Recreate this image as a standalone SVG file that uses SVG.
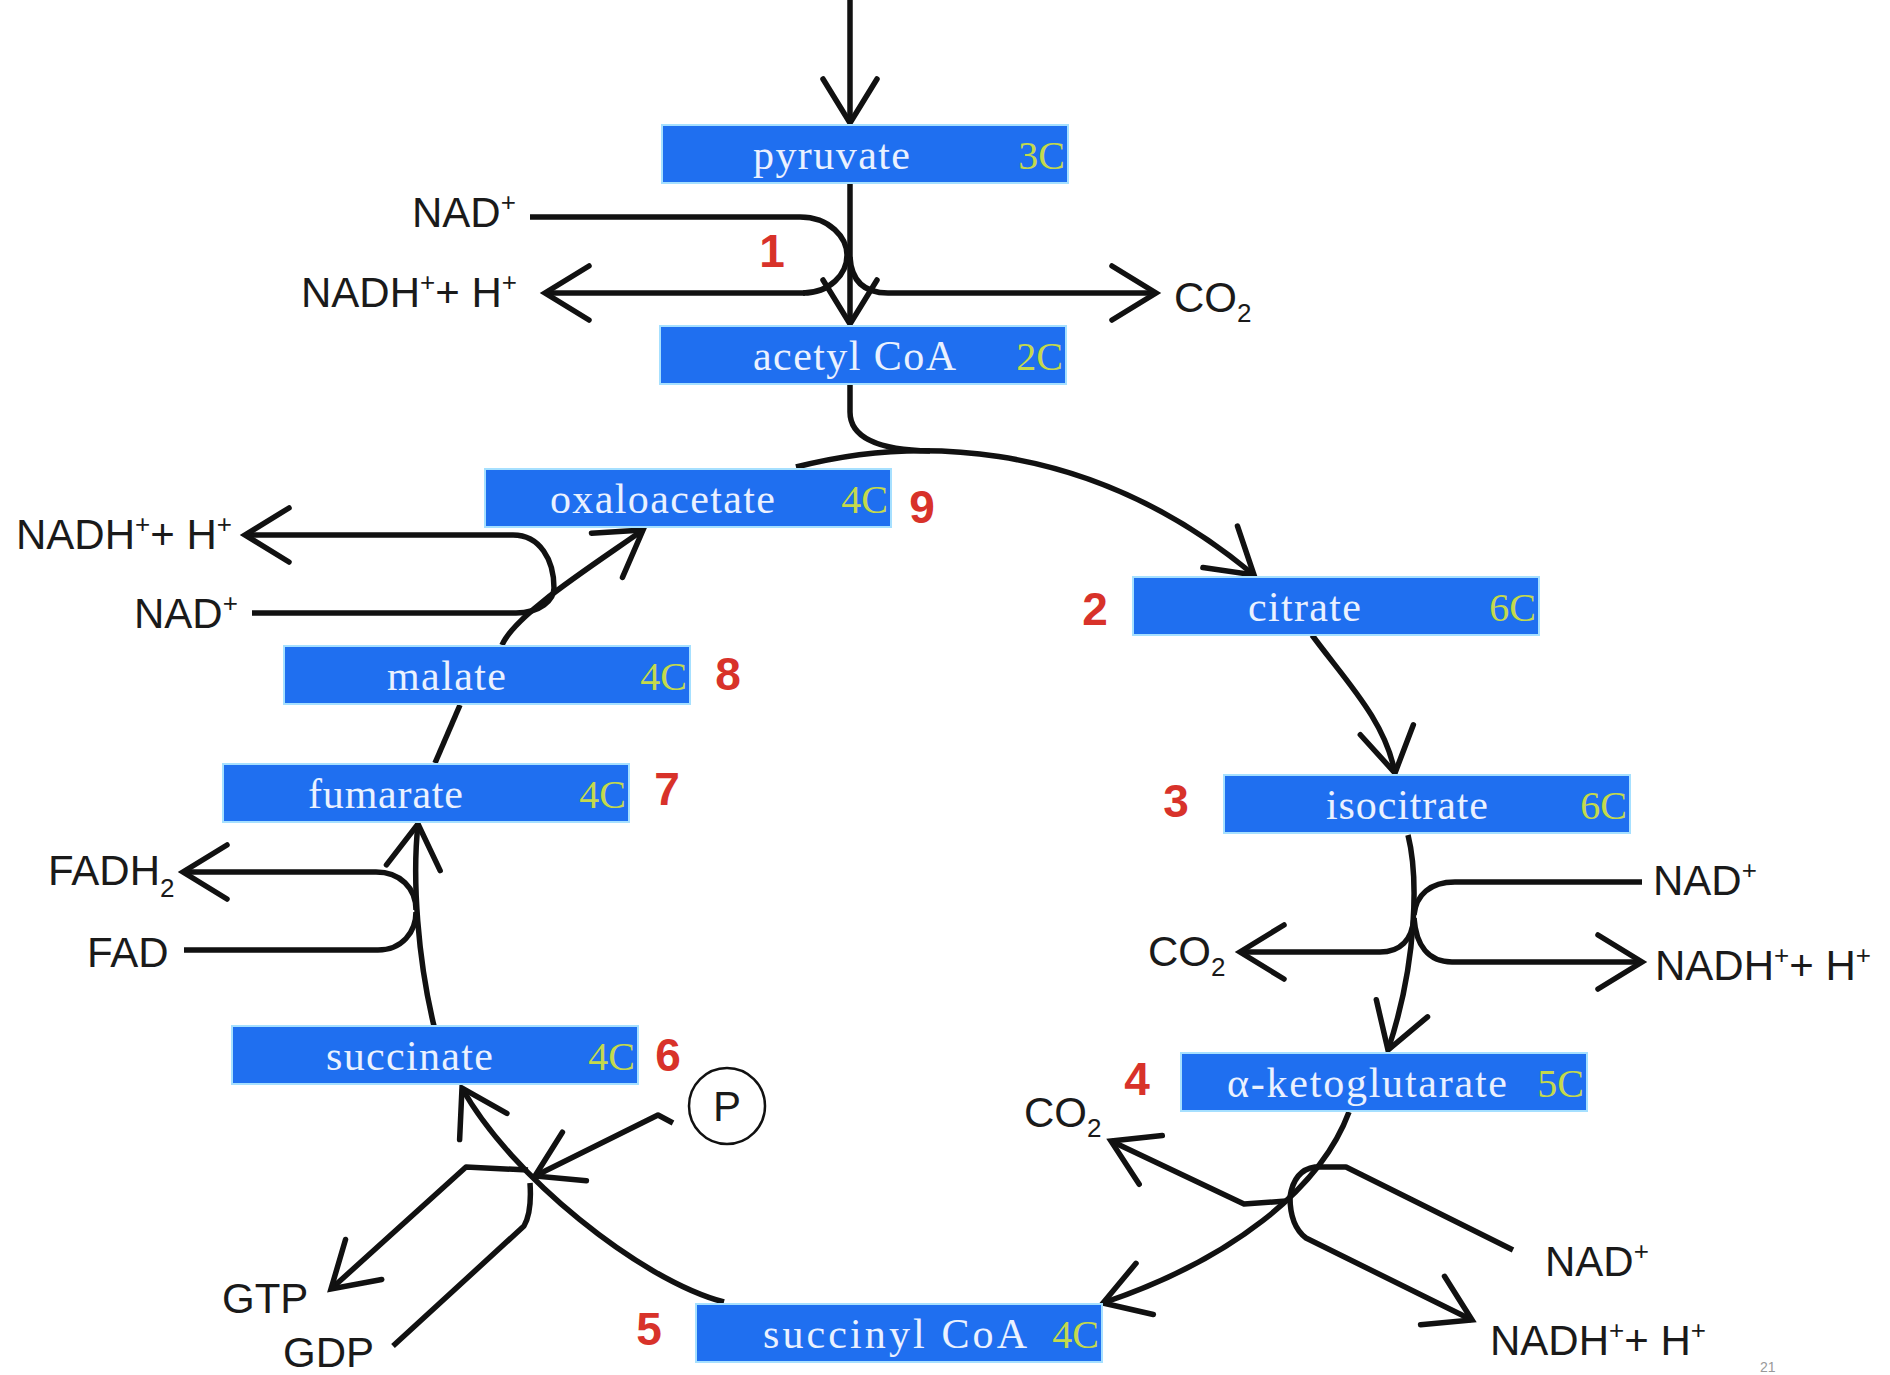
<svg xmlns="http://www.w3.org/2000/svg" width="1890" height="1375" viewBox="0 0 1890 1375">
<defs>
<style>
.box{fill:#1f6ff0;stroke:#a6e0ff;stroke-width:2}
.nm{font-family:"Liberation Serif","Times New Roman",serif;font-size:42px;fill:#eaf1ff}
.cc{font-family:"Liberation Serif","Times New Roman",serif;font-size:40px;fill:#c4d94c;text-anchor:end}
.num{font-family:"Liberation Sans",Arial,sans-serif;font-size:46px;font-weight:bold;fill:#d8322a;text-anchor:middle}
.lb{font-family:"Liberation Sans",Arial,sans-serif;font-size:42px;fill:#1a1a1a}
.ln{fill:none;stroke:#111;stroke-width:5.5;stroke-linejoin:round}
.ar{marker-end:url(#ah)}
</style>
<marker id="ah" markerUnits="userSpaceOnUse" viewBox="-50 -35 60 70" markerWidth="60" markerHeight="70" refX="0" refY="0" orient="auto" overflow="visible">
<path d="M -44 -27 L 0 0 L -44 27" fill="none" stroke="#111" stroke-width="5.5" stroke-linejoin="miter" stroke-linecap="round"/>
</marker>
</defs>
<rect width="1890" height="1375" fill="#ffffff"/>

<g id="connectors">
<path class="ln ar" d="M 850 0 L 850 123"/>
<path class="ln ar" d="M 850 184 L 850 324"/>
<path class="ln" d="M 530 217 L 800 217 C 830 217 847 238 847 255 C 847 274 830 293 803 293"/>
<path class="ln ar" d="M 805 293 L 545 293"/>
<path class="ln ar" d="M 850 257 Q 852 293 888 293 L 1156 293"/>
<path class="ln" d="M 850 385 L 850 412 C 850 438 880 450 930 451"/>
<path class="ln ar" d="M 796 467 C 900 440 1080 430 1254 575"/>
<path class="ln ar" d="M 1312 635 C 1345 680 1385 720 1395 773"/>
<path class="ln ar" d="M 1408 835 C 1418 875 1418 960 1388 1050"/>
<path class="ln" d="M 1642 882 L 1455 882 C 1430 882 1416 895 1414 915"/>
<path class="ln ar" d="M 1414 918 C 1412 940 1400 952 1380 952 L 1240 952"/>
<path class="ln ar" d="M 1414 918 C 1416 945 1428 962 1452 962 L 1642 962"/>
<path class="ln ar" d="M 1349 1112 C 1320 1190 1230 1260 1103 1303"/>
<path class="ln ar" d="M 1286 1201 L 1244 1204 L 1111 1141"/>
<path class="ln" d="M 1513 1250 L 1346 1167 L 1315 1167 Q 1294 1170 1290 1197"/>
<path class="ln ar" d="M 1290 1197 Q 1290 1226 1306 1238 L 1472 1320"/>
<path class="ln ar" d="M 724 1302 C 640 1280 510 1175 462 1088"/>
<path class="ln ar" d="M 673 1123 L 658 1115 L 535 1176"/>
<path class="ln ar" d="M 528 1170 L 466 1167 L 331 1289"/>
<path class="ln" d="M 393 1346 L 524 1226 Q 532 1212 530 1183"/>
<path class="ln ar" d="M 434 1026 C 418 960 412 880 418 824"/>
<path class="ln ar" d="M 416 910 C 416 888 400 872 376 872 L 183 872"/>
<path class="ln" d="M 184 950 L 378 950 C 402 950 416 932 416 912"/>
<path class="ln" d="M 460 705 L 435 763"/>
<path class="ln ar" d="M 502 645 C 515 615 586 570 643 530"/>
<path class="ln ar" d="M 554 588 C 554 560 540 535 513 535 L 245 535"/>
<path class="ln" d="M 252 613 L 516 613 C 540 613 554 600 554 588"/>
<circle cx="727" cy="1106" r="38" fill="none" stroke="#111" stroke-width="2.5"/>
</g>

<g id="pyruvate"><rect class="box" x="662" y="125" width="406" height="58"/><text class="nm" x="753" y="169" textLength="157" lengthAdjust="spacing">pyruvate</text><text class="cc" x="1065" y="169">3C</text></g>
<g id="acetylcoa"><rect class="box" x="660" y="326" width="406" height="58"/><text class="nm" x="753" y="370" textLength="203" lengthAdjust="spacing">acetyl CoA</text><text class="cc" x="1063" y="370">2C</text></g>
<g id="oxaloacetate"><rect class="box" x="485" y="469" width="406" height="58"/><text class="nm" x="550" y="513" textLength="225" lengthAdjust="spacing">oxaloacetate</text><text class="cc" x="888" y="513">4C</text></g>
<g id="citrate"><rect class="box" x="1133" y="577" width="406" height="58"/><text class="nm" x="1248" y="621" textLength="113" lengthAdjust="spacing">citrate</text><text class="cc" x="1536" y="621">6C</text></g>
<g id="isocitrate"><rect class="box" x="1224" y="775" width="406" height="58"/><text class="nm" x="1326" y="819" textLength="162" lengthAdjust="spacing">isocitrate</text><text class="cc" x="1627" y="819">6C</text></g>
<g id="ketoglutarate"><rect class="box" x="1181" y="1053" width="406" height="58"/><text class="nm" x="1227" y="1097" textLength="280" lengthAdjust="spacing">α-ketoglutarate</text><text class="cc" x="1584" y="1097">5C</text></g>
<g id="succinylcoa"><rect class="box" x="696" y="1304" width="406" height="58"/><text class="nm" x="763" y="1348" textLength="264" lengthAdjust="spacing">succinyl CoA</text><text class="cc" x="1099" y="1348">4C</text></g>
<g id="succinate"><rect class="box" x="232" y="1026" width="406" height="58"/><text class="nm" x="326" y="1070" textLength="167" lengthAdjust="spacing">succinate</text><text class="cc" x="635" y="1070">4C</text></g>
<g id="fumarate"><rect class="box" x="223" y="764" width="406" height="58"/><text class="nm" x="308" y="808" textLength="155" lengthAdjust="spacing">fumarate</text><text class="cc" x="626" y="808">4C</text></g>
<g id="malate"><rect class="box" x="284" y="646" width="406" height="58"/><text class="nm" x="387" y="690" textLength="119" lengthAdjust="spacing">malate</text><text class="cc" x="687" y="690">4C</text></g>

<g id="steps">
<text class="num" x="772" y="267">1</text>
<text class="num" x="922" y="523">9</text>
<text class="num" x="1095" y="625">2</text>
<text class="num" x="1176" y="817">3</text>
<text class="num" x="1137" y="1095">4</text>
<text class="num" x="649" y="1345">5</text>
<text class="num" x="668" y="1071">6</text>
<text class="num" x="667" y="805">7</text>
<text class="num" x="728" y="690">8</text>
</g>

<g id="labels">
<text class="lb" x="412" y="227">NAD<tspan font-size="26" dy="-16">+</tspan></text>
<text class="lb" x="301" y="307">NADH<tspan font-size="26" dy="-16">+</tspan><tspan dy="16">+ H</tspan><tspan font-size="26" dy="-16">+</tspan></text>
<text class="lb" x="1174" y="312">CO<tspan font-size="26" dy="10">2</tspan></text>
<text class="lb" x="16" y="549">NADH<tspan font-size="26" dy="-16">+</tspan><tspan dy="16">+ H</tspan><tspan font-size="26" dy="-16">+</tspan></text>
<text class="lb" x="134" y="628">NAD<tspan font-size="26" dy="-16">+</tspan></text>
<text class="lb" x="48" y="885">FADH<tspan font-size="26" dy="12">2</tspan></text>
<text class="lb" x="87" y="967">FAD</text>
<text class="lb" x="222" y="1313">GTP</text>
<text class="lb" x="283" y="1367">GDP</text>
<text class="lb" x="727" y="1121" text-anchor="middle" font-size="40">P</text>
<text class="lb" x="1653" y="895">NAD<tspan font-size="26" dy="-16">+</tspan></text>
<text class="lb" x="1148" y="966">CO<tspan font-size="26" dy="10">2</tspan></text>
<text class="lb" x="1655" y="980">NADH<tspan font-size="26" dy="-16">+</tspan><tspan dy="16">+ H</tspan><tspan font-size="26" dy="-16">+</tspan></text>
<text class="lb" x="1024" y="1127">CO<tspan font-size="26" dy="10">2</tspan></text>
<text class="lb" x="1545" y="1276">NAD<tspan font-size="26" dy="-16">+</tspan></text>
<text class="lb" x="1490" y="1355">NADH<tspan font-size="26" dy="-16">+</tspan><tspan dy="16">+ H</tspan><tspan font-size="26" dy="-16">+</tspan></text>
<text x="1760" y="1372" font-family="Liberation Sans, sans-serif" font-size="14" fill="#999">21</text>
</g>
</svg>
